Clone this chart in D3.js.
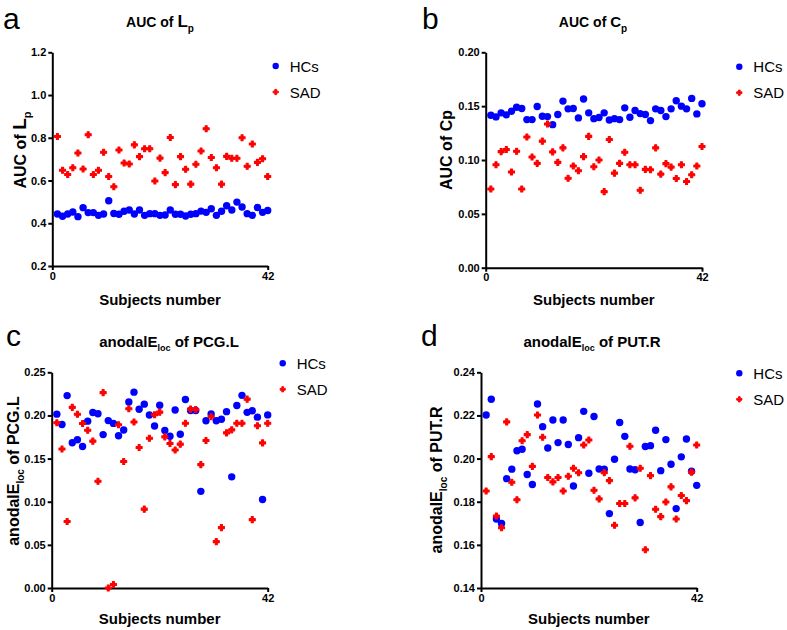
<!DOCTYPE html>
<html>
<head>
<meta charset="utf-8">
<script src="https://cdn.jsdelivr.net/npm/d3@7"></script>
<style>
  html, body { margin: 0; padding: 0; background: #fff; }
  svg { display: block; font-family: "Liberation Sans", Arial, Helvetica, sans-serif; }
</style>
</head>
<body>
<svg id="chart" width="787" height="630"></svg>
<script>
// ---------- data ----------
const subjects = [1,2,3,4,5,6,7,8,9,10,11,12,13,14,15,16,17,18,19,20,21,22,23,24,25,26,27,28,29,30,31,32,33,34,35,36,37,38,39,40,41,42];
const xTicks = [0, 42];
const seriesNames = ["HCs", "SAD"];

// a: AUC of Lp
const lpTicks = [0.2, 0.4, 0.6, 0.8, 1.0, 1.2];
const lpHCs = [0.443,0.433,0.443,0.453,0.431,0.473,0.450,0.450,0.437,0.443,0.505,0.446,0.442,0.456,0.462,0.443,0.462,0.437,0.445,0.445,0.437,0.439,0.462,0.442,0.442,0.434,0.442,0.445,0.457,0.451,0.468,0.437,0.456,0.482,0.462,0.499,0.476,0.445,0.437,0.474,0.451,0.460];
const lpSAD = [0.806,0.648,0.628,0.660,0.729,0.654,0.814,0.628,0.648,0.732,0.619,0.571,0.743,0.682,0.677,0.767,0.712,0.749,0.749,0.598,0.705,0.637,0.801,0.581,0.712,0.653,0.583,0.676,0.738,0.842,0.708,0.660,0.583,0.713,0.704,0.704,0.800,0.667,0.771,0.685,0.702,0.619];

// b: AUC of Cp
const cpTicks = [0.00, 0.05, 0.10, 0.15, 0.20];
const cpHCs = [0.1416,0.1400,0.1438,0.1419,0.1453,0.1490,0.1478,0.1375,0.1375,0.1497,0.1406,0.1403,0.1328,0.1422,0.1547,0.1475,0.1478,0.1391,0.1566,0.1438,0.1384,0.1394,0.1438,0.1372,0.1384,0.1375,0.1484,0.1397,0.1459,0.1431,0.1422,0.1366,0.1475,0.1459,0.1403,0.1475,0.1550,0.1500,0.1475,0.1572,0.1428,0.1522];
const cpSAD = [0.0731,0.0956,0.1078,0.1097,0.0888,0.1081,0.0731,0.1213,0.1028,0.0969,0.1175,0.1334,0.1075,0.0978,0.1113,0.0831,0.0944,0.0900,0.1031,0.1219,0.0938,0.1000,0.0706,0.1191,0.0878,0.0969,0.1072,0.0956,0.0956,0.0719,0.0913,0.0909,0.1113,0.0869,0.0966,0.0934,0.0828,0.0956,0.0800,0.0863,0.0944,0.1125];

// c: anodalEloc of PCG.L
const pcgTicks = [0.00, 0.05, 0.10, 0.15, 0.20, 0.25];
const pcgHCs = [0.2015,0.1895,0.2230,0.1684,0.1718,0.1640,0.1934,0.2034,0.2020,0.1778,0.1940,0.1908,0.1765,0.1832,0.2155,0.2270,0.2071,0.2131,0.2005,0.1878,0.2118,0.1826,0.1758,0.2063,0.1782,0.2185,0.2057,0.2057,0.1120,0.1938,0.2016,0.1938,0.1955,0.2044,0.1288,0.2115,0.2233,0.2036,0.2054,0.1980,0.1026,0.2006];
const pcgSAD = [0.1916,0.1611,0.0770,0.2094,0.2013,0.1907,0.1828,0.1702,0.1238,0.2264,0.0000,0.0041,0.1892,0.1467,0.2077,0.1924,0.1629,0.0914,0.1735,0.2008,0.2038,0.1752,0.1674,0.1600,0.1667,0.1910,0.2073,0.2068,0.1430,0.1709,0.1984,0.0537,0.0700,0.1798,0.1833,0.1910,0.1910,0.2189,0.0792,0.1880,0.1682,0.1910];

// d: anodalEloc of PUT.R
const putTicks = [0.14, 0.16, 0.18, 0.20, 0.22, 0.24];
const putHCs = [0.2202,0.2275,0.1720,0.1699,0.1907,0.1951,0.2036,0.2043,0.1926,0.1880,0.2253,0.2148,0.2049,0.2179,0.2074,0.2179,0.2065,0.1873,0.2097,0.2219,0.1932,0.2195,0.1952,0.1951,0.1745,0.1997,0.2167,0.2103,0.1952,0.1948,0.1704,0.2056,0.2060,0.2131,0.1944,0.2088,0.1974,0.1768,0.2008,0.2091,0.1941,0.1876];
const putSAD = [0.1850,0.2009,0.1734,0.1679,0.2170,0.1890,0.1809,0.2083,0.2111,0.1964,0.2202,0.2099,0.1912,0.1892,0.1912,0.1850,0.1918,0.1955,0.1934,0.2063,0.2086,0.1853,0.1813,0.1935,0.1898,0.1691,0.1792,0.1792,0.2057,0.1818,0.1955,0.1577,0.1921,0.1765,0.1731,0.1799,0.1869,0.1720,0.1829,0.1805,0.1937,0.2063];

// ---------- drawing ----------
const svg = d3.select("#chart");
const BLUE = "#0000ff", RED = "#ff0000";
const FONT = "'Liberation Sans', Arial, Helvetica, sans-serif";

function richText(sel, parts, baseSize) {
  parts.forEach(p => {
    const ts = sel.append("tspan").text(p.t).attr("font-size", p.size || baseSize);
    if (p.sub) ts.attr("dy", p.sub);
  });
}

const panels = [
  { letter: "a", lx: 3, ly: 29,
    x0: 52.3, x1: 267.7, yTop: 52.3, yBot: 266,
    yDomain: [0.2, 1.2], ticks: lpTicks, fmt: d3.format(".1f"),
    hcs: lpHCs, sad: lpSAD, tsize: 14,
    title: [{t:"AUC of  "},{t:"L", size:17},{t:"p", size:10, sub:5}], titleX: 160, titleY: 27,
    ylab: [{t:"AUC of "},{t:"L", size:19},{t:"p", size:11, sub:5}], ylabX: 26, ylabY: 150,
    legX: 275.7, legY: 66, xlabY: 305 },
  { letter: "b", lx: 422, ly: 29,
    x0: 485.7, x1: 702, yTop: 52.3, yBot: 267.7,
    yDomain: [0, 0.2], ticks: cpTicks, fmt: d3.format(".2f"),
    hcs: cpHCs, sad: cpSAD, tsize: 14,
    title: [{t:"AUC of "},{t:"C", size:15},{t:"p", size:10, sub:5}], titleX: 593, titleY: 27,
    ylab: [{t:"AUC of Cp"}], ylabX: 452, ylabY: 150,
    legX: 739.3, legY: 66.7, xlabY: 305 },
  { letter: "c", lx: 6, ly: 346,
    x0: 51.7, x1: 267.7, yTop: 372.3, yBot: 588,
    yDomain: [0, 0.25], ticks: pcgTicks, fmt: d3.format(".2f"),
    hcs: pcgHCs, sad: pcgSAD, tsize: 15,
    title: [{t:"anodalE"},{t:"loc", size:9, sub:4},{t:" of PCG.L", sub:-4}], titleX: 169, titleY: 347,
    ylab: [{t:"anodalE"},{t:"loc", size:10, sub:5},{t:" of PCG.L", sub:-5}], ylabX: 19, ylabY: 471,
    legX: 282.7, legY: 363.3, xlabY: 624 },
  { letter: "d", lx: 421, ly: 346,
    x0: 481, x1: 696.7, yTop: 372.3, yBot: 588,
    yDomain: [0.14, 0.24], ticks: putTicks, fmt: d3.format(".2f"),
    hcs: putHCs, sad: putSAD, tsize: 15,
    title: [{t:"anodalE"},{t:"loc", size:9, sub:4},{t:" of PUT.R", sub:-4}], titleX: 592, titleY: 347,
    ylab: [{t:"anodalE"},{t:"loc", size:10, sub:5},{t:"  of PUT.R", sub:-5}], ylabX: 442, ylabY: 480,
    legX: 739.3, legY: 373.3, xlabY: 624 }
];

const crossPath = d3.symbol().type(d3.symbolCross).size(20)();
const legCross = d3.symbol().type(d3.symbolCross).size(15)();

panels.forEach(p => {
  const g = svg.append("g");
  const x = d3.scaleLinear().domain([0, 42]).range([p.x0, p.x1]);
  const y = d3.scaleLinear().domain(p.yDomain).range([p.yBot, p.yTop]);

  g.append("text").attr("x", p.lx).attr("y", p.ly)
    .attr("font-size", 30).attr("font-family", FONT).text(p.letter);

  const t = g.append("text").attr("x", p.titleX).attr("y", p.titleY)
    .attr("text-anchor", "middle").attr("font-weight", "bold")
    .attr("font-family", FONT).attr("font-size", p.tsize);
  richText(t, p.title, p.tsize);

  const ya = g.append("g").attr("transform", `translate(${p.x0},0)`)
    .call(d3.axisLeft(y).tickValues(p.ticks).tickFormat(p.fmt).tickSize(4).tickSizeOuter(0).tickPadding(2));
  const xa = g.append("g").attr("transform", `translate(0,${p.yBot})`)
    .call(d3.axisBottom(x).tickValues(xTicks).tickFormat(d3.format("d")).tickSize(4).tickSizeOuter(0).tickPadding(2));
  [ya, xa].forEach(a => {
    a.select(".domain").attr("stroke", "#000").attr("stroke-width", 2);
    a.selectAll(".tick line").attr("stroke", "#000").attr("stroke-width", 2);
    a.selectAll(".tick text").attr("fill", "#000").attr("font-weight", "bold")
      .attr("font-size", 11).attr("font-family", FONT);
  });

  g.append("text").attr("x", (p.x0 + p.x1) / 2).attr("y", p.xlabY)
    .attr("text-anchor", "middle").attr("font-weight", "bold")
    .attr("font-family", FONT).attr("font-size", 15).text("Subjects number");

  const yl = g.append("text")
    .attr("transform", `translate(${p.ylabX},${p.ylabY}) rotate(-90)`)
    .attr("text-anchor", "middle").attr("font-weight", "bold")
    .attr("font-family", FONT).attr("font-size", 16);
  richText(yl, p.ylab, 16);

  g.append("g").selectAll("circle").data(p.hcs).join("circle")
    .attr("cx", (d, i) => x(subjects[i])).attr("cy", d => y(d))
    .attr("r", 3.7).attr("fill", BLUE);
  g.append("g").selectAll("path").data(p.sad).join("path")
    .attr("d", crossPath)
    .attr("transform", (d, i) => `translate(${x(subjects[i])},${y(d)})`)
    .attr("fill", RED).attr("stroke", RED).attr("stroke-width", 1.1).attr("stroke-linejoin", "round");

  const lg = g.append("g").attr("transform", `translate(${p.legX},${p.legY})`);
  lg.append("circle").attr("cx", 0).attr("cy", 0).attr("r", 3.2).attr("fill", BLUE);
  lg.append("path").attr("d", legCross).attr("transform", "translate(0,26)")
    .attr("fill", RED).attr("stroke", RED).attr("stroke-width", 1).attr("stroke-linejoin", "round");
  seriesNames.forEach((n, i) => {
    lg.append("text").attr("x", 14).attr("y", i * 26 + 5.5)
      .attr("font-size", 15).attr("font-family", FONT).attr("fill", "#000").text(n);
  });
});
</script>
</body>
</html>
